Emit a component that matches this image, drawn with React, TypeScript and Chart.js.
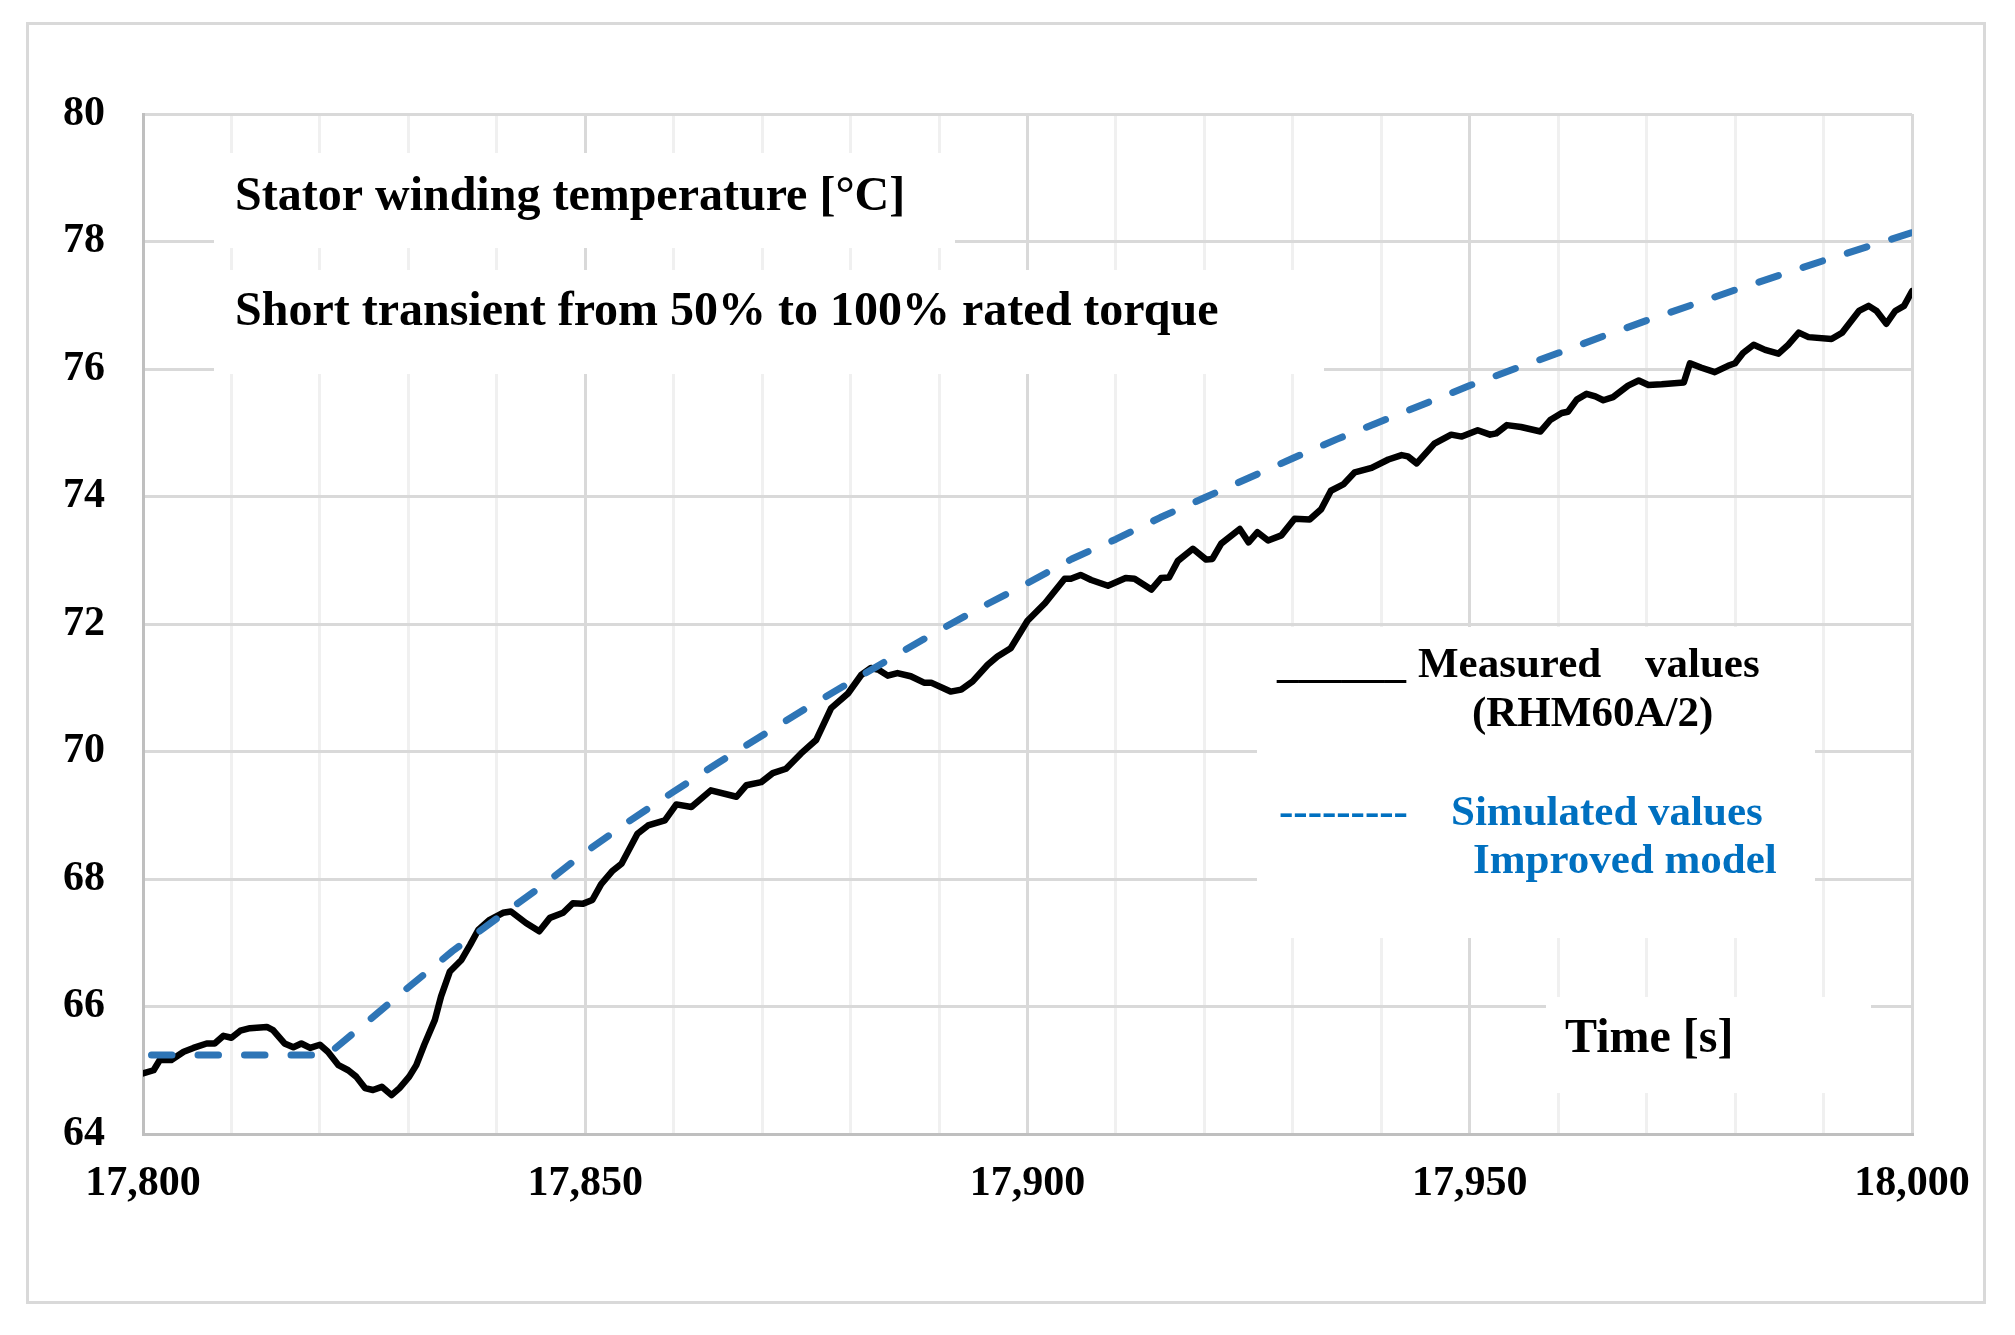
import React, { useEffect, useRef } from "react";
import { Chart, registerables } from "chart.js";

Chart.register(...registerables);

// ---- Data ----
const measuredTime = [
  17800, 17801.2, 17801.9, 17803.2, 17804.6, 17805.7, 17807.2, 17808.1, 17809.1, 17810,
  17811, 17812.1, 17814, 17814.7, 17816, 17817, 17817.9, 17818.9, 17820, 17820.9,
  17822.1, 17823.2, 17824.1, 17825.1, 17826, 17827, 17828.1, 17829, 17830.1, 17830.9,
  17831.8, 17833, 17833.7, 17834.7, 17836, 17837, 17837.9, 17839.2, 17840.7, 17841.6,
  17843.3, 17844.8, 17846, 17847.5, 17848.6, 17849.7, 17850.8, 17851.8, 17853.1, 17854.1,
  17855.9, 17857.1, 17859, 17860.3, 17862, 17864.2, 17867.1, 17868.2, 17869.9, 17871.2,
  17872.7, 17874.4, 17876.1, 17877.8, 17879.7, 17881.2, 17882.3, 17883.2, 17884.2, 17885.3,
  17886.8, 17888.3, 17889.1, 17891.3, 17892.5, 17893.8, 17895.5, 17896.6, 17898.1, 17900,
  17902, 17904.2, 17904.9, 17906, 17907.2, 17909.1, 17911.1, 17912.1, 17914, 17915.1,
  17916, 17917, 17918.7, 17920.2, 17920.9, 17921.9, 17924, 17925, 17926, 17927.2,
  17928.7, 17930.2, 17931.9, 17933.2, 17934.3, 17935.7, 17937, 17938.9, 17940.8, 17942.3,
  17943, 17944, 17946, 17947.9, 17949.1, 17950.9, 17952.3, 17953, 17954.2, 17955.8,
  17958, 17959.1, 17960.4, 17961.1, 17962.1, 17963.2, 17964.2, 17965.1, 17966.2, 17967.9,
  17969.1, 17970.2, 17971.7, 17974.2, 17974.9, 17976.2, 17977.7, 17979.2, 17980, 17980.9,
  17982.1, 17983.4, 17984.9, 17986, 17987.2, 17988.3, 17990.9, 17992.1, 17994, 17995.1,
  17996, 17997.1, 17998.1, 17999.1, 18000,
];
const measuredTemp = [
  64.95, 65.0, 65.16, 65.16, 65.29, 65.35, 65.42, 65.42, 65.54, 65.51,
  65.62, 65.66, 65.68, 65.63, 65.42, 65.36, 65.42, 65.35, 65.4, 65.29,
  65.08, 65.0, 64.9, 64.72, 64.69, 64.74, 64.61, 64.72, 64.9, 65.08,
  65.4, 65.79, 66.16, 66.55, 66.73, 66.97, 67.2, 67.36, 67.47, 67.49,
  67.31, 67.18, 67.39, 67.47, 67.62, 67.61, 67.67, 67.92, 68.13, 68.24,
  68.71, 68.84, 68.92, 69.17, 69.13, 69.39, 69.29, 69.47, 69.52, 69.66,
  69.73, 69.97, 70.18, 70.68, 70.91, 71.2, 71.31, 71.28, 71.19, 71.23,
  71.18, 71.08, 71.08, 70.94, 70.97, 71.1, 71.36, 71.49, 71.62, 72.05,
  72.33, 72.71, 72.71, 72.77, 72.69, 72.6, 72.72, 72.71, 72.54, 72.72,
  72.73, 72.99, 73.18, 73.01, 73.02, 73.26, 73.49, 73.28, 73.44, 73.31,
  73.39, 73.65, 73.64, 73.8, 74.09, 74.19, 74.38, 74.45, 74.58, 74.65,
  74.63, 74.52, 74.83, 74.97, 74.94, 75.04, 74.97, 74.99, 75.12, 75.09,
  75.02, 75.2, 75.31, 75.33, 75.52, 75.61, 75.57, 75.51, 75.56, 75.74,
  75.82, 75.75, 75.76, 75.79, 76.09, 76.02, 75.95, 76.05, 76.09, 76.25,
  76.38, 76.3, 76.24, 76.38, 76.57, 76.5, 76.47, 76.57, 76.91, 76.99,
  76.91, 76.71, 76.91, 76.99, 77.22,
];

const simulatedTime = [
  17800, 17805, 17810, 17815, 17820, 17821, 17825, 17830, 17835, 17840,
  17845, 17850, 17855, 17860, 17865, 17870, 17875, 17880, 17885, 17890,
  17895, 17900, 17905, 17910, 17915, 17920, 17925, 17930, 17935, 17940,
  17945, 17950, 17955, 17960, 17965, 17970, 17975, 17980, 17985, 17990,
  17995, 18000,
];
const simulatedTemp = [
  65.24, 65.24, 65.24, 65.24, 65.24, 65.26, 65.72, 66.3, 66.87, 67.38,
  67.88, 68.42, 68.91, 69.37, 69.82, 70.25, 70.68, 71.09, 71.5, 71.9,
  72.28, 72.64, 73.02, 73.33, 73.67, 73.98, 74.29, 74.6, 74.9, 75.18,
  75.46, 75.74, 76.0, 76.25, 76.51, 76.76, 77.0, 77.24, 77.47, 77.7,
  77.92, 78.14,
];

const X_MIN = 17800;
const X_MAX = 18000;
const X_MINOR_STEP = 10;
const X_LABEL_STEP = 50;
const Y_MIN = 64;
const Y_MAX = 80;
const Y_STEP = 2;

const titleLines = ["Stator winding temperature [°C]", "Short transient from 50% to 100% rated torque"];
const measuredLegend = ["______", "Measured", "values", "(RHM60A/2)"];
const simulatedLegend = ["---------", "Simulated values", "Improved model"];
const xAxisTitle = "Time [s]";

const SERIF = '"Liberation Serif", "Times New Roman", serif';
const BLUE_LINE = "#2e75b6";
const BLUE_TEXT = "#0070c0";

const overlayPlugin = {
  id: "overlay",
  beforeDraw(chart: any) {
    const ctx = chart.ctx;
    ctx.save();
    ctx.strokeStyle = "#d9d9d9";
    ctx.lineWidth = 3;
    ctx.strokeRect(27.5, 23.5, 1957, 1279);
    ctx.restore();
  },
  beforeDatasetsDraw(chart: any) {
    const ctx = chart.ctx;
    ctx.save();
    ctx.fillStyle = "#ffffff";
    ctx.fillRect(214, 153, 741, 95);
    ctx.fillRect(214, 270, 1110, 104);
    ctx.fillRect(1257, 627, 558, 311);
    ctx.fillRect(1546, 997, 325, 96);

    ctx.textBaseline = "alphabetic";
    ctx.textAlign = "left";
    ctx.fillStyle = "#000000";
    ctx.font = `bold 48px ${SERIF}`;
    ctx.fillText(titleLines[0], 235, 210);
    ctx.fillText(titleLines[1], 235, 325);
    ctx.fillText(xAxisTitle, 1565, 1052);

    ctx.font = `bold 43px ${SERIF}`;
    ctx.fillText(measuredLegend[0], 1277, 677);
    ctx.fillText(measuredLegend[1], 1418, 677);
    ctx.fillText(measuredLegend[2], 1645, 677);
    ctx.fillText(measuredLegend[3], 1472, 726);

    ctx.fillStyle = BLUE_TEXT;
    ctx.fillText(simulatedLegend[0], 1279, 825);
    ctx.fillText(simulatedLegend[1], 1451, 825);
    ctx.fillText(simulatedLegend[2], 1473, 873);
    ctx.restore();
  },
};

export default function App() {
  const canvasRef = useRef<HTMLCanvasElement | null>(null);

  useEffect(() => {
    document.body.style.margin = "0";
    const canvas = canvasRef.current;
    if (!canvas) return;

    const measured = measuredTime.map((t, i) => ({ x: t, y: measuredTemp[i] }));
    const simulated = simulatedTime.map((t, i) => ({ x: t, y: simulatedTemp[i] }));

    const chart = new Chart(canvas, {
      type: "line",
      data: {
        datasets: [
          {
            label: "Simulated values Improved model",
            data: simulated,
            borderColor: BLUE_LINE,
            borderWidth: 7,
            borderDash: [20.5, 26],
            borderDashOffset: 38,
            borderCapStyle: "round",
            borderJoinStyle: "round",
            pointRadius: 0,
            fill: false,
            tension: 0,
          },
          {
            label: "Measured values (RHM60A/2)",
            data: measured,
            borderColor: "#000000",
            borderWidth: 6.5,
            borderCapStyle: "round",
            borderJoinStyle: "round",
            pointRadius: 0,
            fill: false,
            tension: 0,
          },
        ],
      },
      options: {
        animation: false,
        responsive: false,
        devicePixelRatio: 1,
        layout: { padding: { left: 0, right: 103, top: 114, bottom: 0 } },
        plugins: {
          legend: { display: false },
          tooltip: { enabled: false },
          title: { display: false },
        },
        scales: {
          x: {
            type: "linear",
            min: X_MIN,
            max: X_MAX,
            afterFit: (scale: any) => {
              scale.height = 201;
              scale.paddingLeft = 0;
              scale.paddingRight = 0;
            },
            ticks: {
              stepSize: X_MINOR_STEP,
              autoSkip: false,
              maxRotation: 0,
              minRotation: 0,
              padding: 25,
              color: "#000000",
              font: { family: SERIF, size: 42, weight: "bold" },
              callback: (value: any) =>
                Number(value) % X_LABEL_STEP === 0 ? Number(value).toLocaleString("en-US") : "",
            },
            grid: {
              drawTicks: false,
              lineWidth: 3,
              color: (c: any) =>
                c.tick && Number(c.tick.value) % X_LABEL_STEP === 0 ? "#d9d9d9" : "#f0f0f0",
            },
            border: { color: "#bfbfbf", width: 3 },
          },
          y: {
            type: "linear",
            min: Y_MIN,
            max: Y_MAX,
            afterFit: (scale: any) => {
              scale.width = 143;
              scale.paddingTop = 0;
              scale.paddingBottom = 0;
            },
            ticks: {
              stepSize: Y_STEP,
              padding: 38,
              color: "#000000",
              font: { family: SERIF, size: 42, weight: "bold" },
            },
            grid: { drawTicks: false, lineWidth: 3, color: "#d9d9d9" },
            border: { color: "#bfbfbf", width: 3 },
          },
        },
      },
      plugins: [overlayPlugin],
    });

    return () => chart.destroy();
  }, []);

  return (
    <div style={{ position: "absolute", left: 0, top: 0, width: 2015, height: 1335, background: "#fff" }}>
      <canvas ref={canvasRef} width={2015} height={1335} style={{ width: 2015, height: 1335 }} />
    </div>
  );
}
